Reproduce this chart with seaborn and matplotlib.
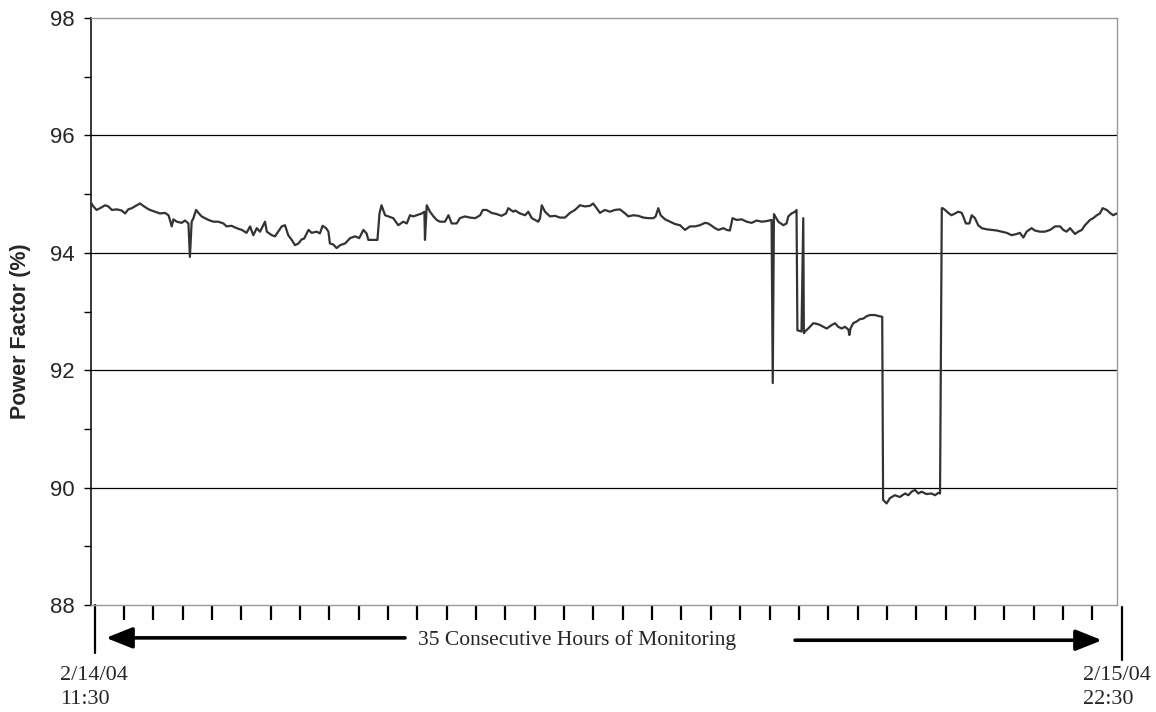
import matplotlib
matplotlib.use("Agg")
import matplotlib.pyplot as plt
import matplotlib.transforms as mtransforms
import numpy as np
import pandas as pd
import seaborn as sns

# Elapsed monitoring time (hours after 2/14/04 11:30) and measured power factor (%)
hours = [
    -0.10, -0.04, 0.07, 0.19, 0.36, 0.47, 0.59, 0.76, 0.93, 1.04, 1.15, 1.27, 1.44, 1.55,
    1.66, 1.78, 1.89, 2.06, 2.23, 2.40, 2.52, 2.57, 2.63, 2.69, 2.80, 2.97, 3.08, 3.20,
    3.25, 3.31, 3.37, 3.46, 3.54, 3.65, 3.76, 3.88, 4.05, 4.22, 4.39, 4.50, 4.67, 4.84,
    5.02, 5.18, 5.30, 5.41, 5.53, 5.64, 5.81, 5.87, 6.04, 6.15, 6.26, 6.38, 6.49, 6.60,
    6.72, 6.83, 6.95, 7.06, 7.14,
    7.29, 7.40, 7.57, 7.68, 7.77, 7.89, 7.97, 8.02, 8.14, 8.25, 8.37, 8.54, 8.71, 8.88,
    9.02, 9.16, 9.27, 9.33, 9.50, 9.64, 9.71, 9.78, 9.90, 10.01, 10.18, 10.35, 10.52,
    10.64, 10.75, 10.86, 10.98, 11.15, 11.24, 11.26, 11.32, 11.43, 11.55, 11.66, 11.77,
    11.94, 12.06, 12.17, 12.34, 12.45, 12.62, 12.79, 12.97, 13.14, 13.23, 13.36, 13.53,
    13.70, 13.87, 14.02, 14.10, 14.27,
    14.33, 14.50, 14.67, 14.78, 14.90, 15.01, 15.12, 15.18, 15.24, 15.35, 15.52, 15.69,
    15.86, 16.03, 16.20, 16.37, 16.54, 16.71, 16.88, 16.99, 17.11, 17.22, 17.39, 17.56,
    17.73, 17.90, 18.08, 18.19, 18.36, 18.53, 18.70, 18.87, 19.04, 19.12, 19.21, 19.29,
    19.44, 19.61, 19.78, 19.95, 20.12, 20.29, 20.46, 20.63, 20.80, 20.91, 21.03, 21.14,
    21.26, 21.43,
    21.54, 21.65, 21.74, 21.88, 22.05, 22.22, 22.39, 22.56, 22.73, 22.90, 23.07, 23.11,
    23.15, 23.30, 23.47, 23.58, 23.64, 23.75, 23.87, 23.92, 23.95, 24.09, 24.15, 24.17,
    24.21, 24.32, 24.49, 24.61, 24.72, 24.83, 24.95, 25.12, 25.23, 25.34, 25.46, 25.57,
    25.69, 25.72, 25.76, 25.85, 25.97, 26.08, 26.20, 26.31, 26.42, 26.59, 26.74, 26.84,
    26.87, 26.99, 27.10, 27.27, 27.44, 27.62, 27.73, 27.84, 27.96, 28.07, 28.18, 28.35,
    28.52, 28.64, 28.75, 28.81,
    28.87, 28.90, 28.98, 29.09, 29.20, 29.32, 29.43, 29.55, 29.60, 29.69, 29.81, 29.89,
    30.00, 30.11, 30.23, 30.40, 30.57, 30.74, 30.91, 31.08, 31.25, 31.42, 31.53, 31.65,
    31.76, 31.93, 32.04, 32.21, 32.38, 32.56, 32.73, 32.90, 33.01, 33.12, 33.24, 33.41,
    33.52, 33.64, 33.75, 33.92, 34.03, 34.15, 34.26, 34.35, 34.49, 34.60, 34.71, 34.83,
]
power_factor = [
    94.84, 94.79, 94.73, 94.76, 94.81, 94.79, 94.73, 94.74, 94.72, 94.67, 94.74, 94.76, 94.81, 94.84,
    94.80, 94.76, 94.73, 94.70, 94.67, 94.68, 94.64, 94.56, 94.45, 94.57, 94.53, 94.51, 94.55, 94.50,
    93.93, 94.53, 94.59, 94.73, 94.68, 94.62, 94.59, 94.56, 94.53, 94.53, 94.50, 94.45, 94.46, 94.42,
    94.39, 94.34, 94.45, 94.30, 94.42, 94.36, 94.53, 94.36, 94.30, 94.28, 94.36, 94.45, 94.47, 94.30,
    94.22, 94.13, 94.16, 94.23, 94.24,
    94.39, 94.34, 94.36, 94.33, 94.46, 94.42, 94.36, 94.16, 94.14, 94.08, 94.13, 94.16, 94.25, 94.28,
    94.25, 94.39, 94.33, 94.22, 94.22, 94.22, 94.67, 94.81, 94.64, 94.62, 94.59, 94.47, 94.53,
    94.50, 94.64, 94.62, 94.64, 94.67, 94.70, 94.22, 94.81, 94.70, 94.62, 94.56, 94.53,
    94.53, 94.64, 94.50, 94.50, 94.59, 94.62, 94.60, 94.59, 94.64, 94.73, 94.73, 94.68,
    94.66, 94.63, 94.67, 94.76, 94.70,
    94.72, 94.67, 94.64, 94.70, 94.59, 94.56, 94.53, 94.59, 94.81, 94.70, 94.62, 94.63,
    94.60, 94.60, 94.68, 94.73, 94.81, 94.79, 94.80, 94.84, 94.76, 94.68, 94.73, 94.70,
    94.73, 94.74, 94.67, 94.62, 94.64, 94.63, 94.60, 94.59, 94.59, 94.62, 94.76, 94.64,
    94.57, 94.53, 94.49, 94.47, 94.39, 94.45, 94.45, 94.47, 94.51, 94.50, 94.46, 94.42,
    94.39, 94.42,
    94.39, 94.38, 94.59, 94.56, 94.57, 94.53, 94.51, 94.55, 94.53, 94.54, 94.56, 91.78,
    94.66, 94.53, 94.47, 94.50, 94.62, 94.67, 94.70, 94.73, 92.68, 92.66, 94.59, 92.63,
    92.66, 92.71, 92.80, 92.79, 92.77, 92.74, 92.71, 92.77, 92.80, 92.74, 92.71, 92.74,
    92.69, 92.60, 92.71, 92.80, 92.83, 92.87, 92.88, 92.92, 92.94, 92.94, 92.92, 92.91,
    89.79, 89.73, 89.82, 89.87, 89.84, 89.90, 89.87, 89.93, 89.96, 89.90, 89.93, 89.89,
    89.90, 89.87, 89.91, 89.90,
    94.76, 94.76, 94.73, 94.68, 94.64, 94.67, 94.70, 94.68, 94.62, 94.50, 94.50, 94.64,
    94.59, 94.47, 94.42, 94.40, 94.39, 94.38, 94.36, 94.34, 94.30, 94.32, 94.34, 94.26,
    94.36, 94.42, 94.38, 94.36, 94.36, 94.39, 94.45, 94.45, 94.39, 94.36, 94.42, 94.32,
    94.36, 94.39, 94.47, 94.56, 94.59, 94.64, 94.67, 94.76, 94.73, 94.68, 94.64, 94.67,
]

total_hours = 35
start_label = "2/14/04\n11:30"
end_label = "2/15/04\n22:30"
span_label = "35 Consecutive Hours of Monitoring"
y_label = "Power Factor (%)"

df = pd.DataFrame({"hours": hours, "pf": power_factor})

sns.set_style("white")
plt.rcParams["font.family"] = ["Liberation Sans", "DejaVu Sans"]

fig = plt.figure(figsize=(11.56, 7.12), dpi=100)
ax = fig.add_axes([91 / 1156, 1 - 605 / 712, (1117 - 91) / 1156, (605 - 18) / 712])

for g in range(90, 97, 2):
    ax.axhline(g, color="black", lw=0.9, zorder=1)

sns.lineplot(data=df, x="hours", y="pf", ax=ax, color="#333333", lw=1.6,
             estimator=None, sort=False, zorder=3)

ax.set_xlim(-0.12, 34.84)
ax.set_ylim(88, 98)

ax.set_yticks(range(88, 99, 2))
ax.set_yticks(range(89, 98, 2), minor=True)
ax.tick_params(axis="y", which="both", direction="out", length=5, width=1,
               color="black", left=True, labelsize=16, pad=7)
ax.set_xticks(range(1, total_hours))
ax.tick_params(axis="x", which="major", direction="out", length=11, width=1.6,
               color="black", bottom=True, labelbottom=False)
ax.set_xlabel("")
ax.set_ylabel(y_label, fontsize=15.5, fontweight="bold")
ax.yaxis.set_label_coords(-0.058, 0.467)

ax.spines["left"].set_color("black")
ax.spines["left"].set_linewidth(1.1)
for side in ("top", "right", "bottom"):
    ax.spines[side].set_color("#999999")
    ax.spines[side].set_linewidth(1.0)

trans = mtransforms.blended_transform_factory(ax.transData, ax.transAxes)

# Start and end markers of the monitoring window
ax.plot([0, 0], [0, -0.082], transform=trans, color="black", lw=1.6, clip_on=False)
ax.plot([total_hours, total_hours], [-0.003, -0.093], transform=trans, color="black",
        lw=1.6, clip_on=False)

serif = ["Liberation Serif", "DejaVu Serif"]
ax.text(-1.18, -0.104, start_label, transform=trans, ha="left", va="top",
        fontsize=16, family=serif, linespacing=1.33, multialignment="left")
ax.text(total_hours - 1.32, -0.104, end_label, transform=trans, ha="left", va="top",
        fontsize=16, family=serif, linespacing=1.33, multialignment="left")

arrow_style = dict(arrowstyle="-|>,head_length=0.8,head_width=0.32", lw=2.6,
                   color="black", shrinkA=0, shrinkB=0, mutation_scale=20)
ax.annotate("", xy=(0.39, -0.056), xytext=(10.58, -0.056), xycoords=trans,
            textcoords=trans, arrowprops=arrow_style, annotation_clip=False)
ax.annotate("", xy=(34.33, -0.060), xytext=(23.87, -0.060), xycoords=trans,
            textcoords=trans, arrowprops=arrow_style, annotation_clip=False)
ax.text(16.44, -0.060, span_label, transform=trans, ha="center", va="center",
        fontsize=15.5, family=serif)

fig.savefig("out.png", dpi=100)
